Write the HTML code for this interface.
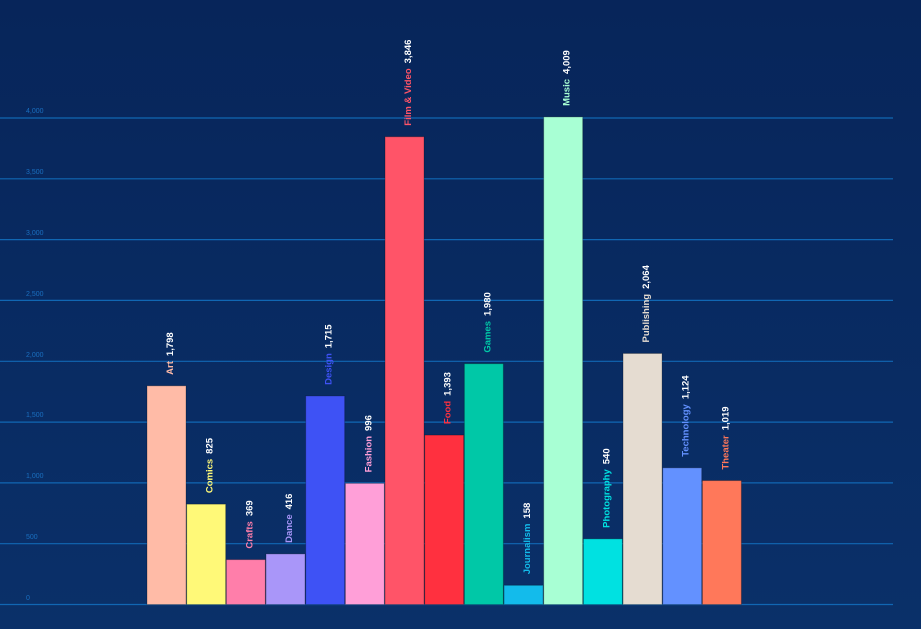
<!DOCTYPE html>
<html><head><meta charset="utf-8"><style>
html,body{margin:0;padding:0;width:921px;height:629px;overflow:hidden}
body{background:linear-gradient(#07255a,#0a3069)}
svg{display:block}
text{font-family:"Liberation Sans",sans-serif}
</style></head><body>
<svg width="921" height="629" xmlns="http://www.w3.org/2000/svg" id="s">
<g stroke="#1167b3" stroke-width="1.2">
<line x1="0" x2="893" y1="604.5" y2="604.5"/>
<line x1="0" x2="893" y1="543.7" y2="543.7"/>
<line x1="0" x2="893" y1="482.9" y2="482.9"/>
<line x1="0" x2="893" y1="422.1" y2="422.1"/>
<line x1="0" x2="893" y1="361.3" y2="361.3"/>
<line x1="0" x2="893" y1="300.4" y2="300.4"/>
<line x1="0" x2="893" y1="239.6" y2="239.6"/>
<line x1="0" x2="893" y1="178.8" y2="178.8"/>
<line x1="0" x2="893" y1="118" y2="118"/>
</g>
<g fill="#1a6fc0" font-size="7">
<text x="26" y="600">0</text>
<text x="26" y="539">500</text>
<text x="26" y="478">1,000</text>
<text x="26" y="417">1,500</text>
<text x="26" y="357">2,000</text>
<text x="26" y="296">2,500</text>
<text x="26" y="235">3,000</text>
<text x="26" y="174">3,500</text>
<text x="26" y="113">4,000</text>
</g>
<g id="bars"></g>
</svg>
<script>
var d=[["Art",1798,"#ffbba7"],["Comics",825,"#fff978"],["Crafts",369,"#ff7eaa"],["Dance",416,"#a996f9"],["Design",1715,"#3e52f5"],["Fashion",996,"#ff9fd8"],["Film & Video",3846,"#ff5468"],["Food",1393,"#ff303f"],["Games",1980,"#00c8a7"],["Journalism",158,"#13bbeb"],["Music",4009,"#a8ffd4"],["Photography",540,"#00e1e1"],["Publishing",2064,"#e5dcd1"],["Technology",1124,"#6391ff"],["Theater",1019,"#ff785a"]];
var g=document.getElementById("bars"),h="";
d.forEach(function(r,i){
var x=147+i*39.67,y=604.5-r[1]*486.5/4000;
h+='<rect x="'+x+'" y="'+y+'" width="39" height="'+(604.5-y)+'" fill="'+r[2]+'" stroke="rgba(0,0,0,0.25)" stroke-width="1"/>';
var cx=x+26,ty=y-11;
h+='<text transform="translate('+cx+','+ty+') rotate(-90)" font-size="9.5" font-weight="bold"><tspan fill="'+r[2]+'">'+r[0].replace("&","&amp;")+'</tspan><tspan fill="#ffffff" dx="5">'+r[1].toLocaleString("en-US")+'</tspan></text>';
});
g.innerHTML=h;
</script>
</body></html>
